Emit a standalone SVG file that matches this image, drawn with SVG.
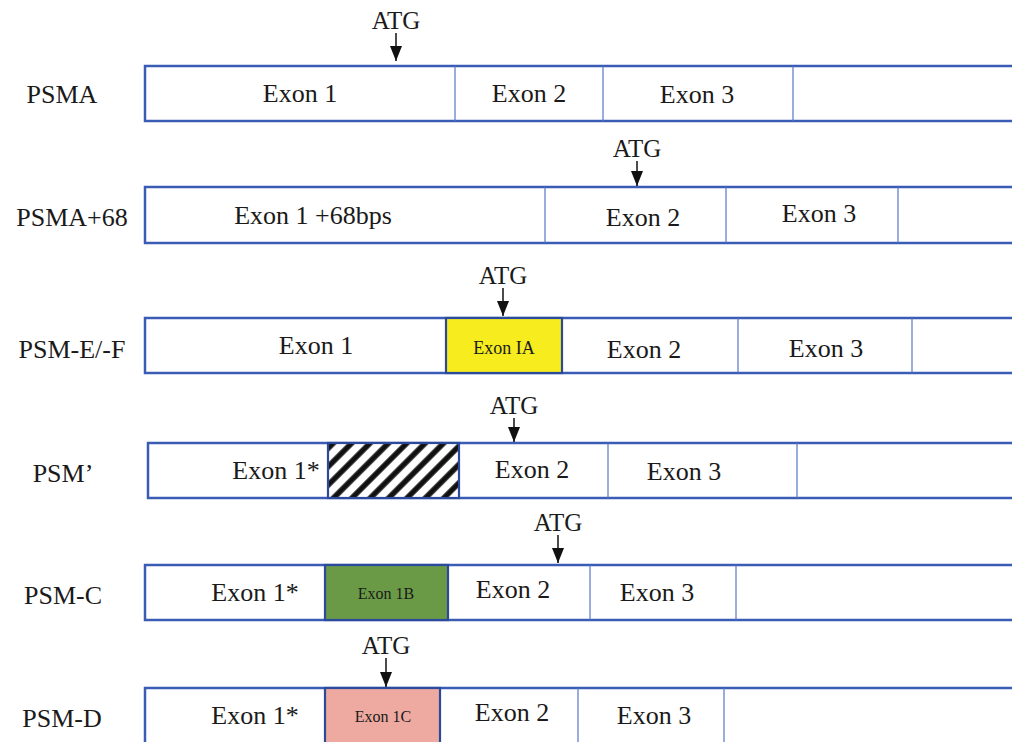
<svg xmlns="http://www.w3.org/2000/svg" width="1012" height="742" viewBox="0 0 1012 742">
  <style>
    .lbl { font-family: "Liberation Serif", "Times New Roman", serif; font-size: 26px; fill: #1a1a1a; text-anchor: middle; }
    .ex { font-family: "Liberation Serif", "Times New Roman", serif; font-size: 26px; fill: #1a1a1a; text-anchor: middle; }
    .exs { font-family: "Liberation Serif", "Times New Roman", serif; font-size: 16px; fill: #1a1a1a; text-anchor: middle; }
    .atg { font-family: "Liberation Serif", "Times New Roman", serif; font-size: 25px; fill: #1a1a1a; text-anchor: middle; }
    .bar { fill: #ffffff; stroke: #3b5cb4; stroke-width: 2.5; }
    .div { stroke: #5577c8; stroke-width: 1.2; }
    .box { stroke: #2c4a9c; stroke-width: 2.2; }
    .arr { stroke: #111; stroke-width: 1.5; marker-end: url(#head); }
  </style>
  <defs>
    <marker id="head" viewBox="0 0 15 12" refX="15" refY="6" markerWidth="15" markerHeight="12" markerUnits="userSpaceOnUse" orient="auto">
      <path d="M0,0 L15,6 L0,12 Z" fill="#111"/>
    </marker>
    <pattern id="hatch" patternUnits="userSpaceOnUse" width="13" height="13" patternTransform="rotate(45)">
      <rect width="13" height="13" fill="#ffffff"/>
      <line x1="3" y1="0" x2="3" y2="13" stroke="#111" stroke-width="5.5"/>
    </pattern>
  </defs>

  <rect width="1012" height="742" fill="#ffffff"/>

  <!-- PSMA -->
  <g id="psma">
    <text class="lbl" x="62" y="103">PSMA</text>
    <rect class="bar" x="145" y="66" width="880" height="55"/>
    <line class="div" x1="455" y1="66" x2="455" y2="121"/>
    <line class="div" x1="603" y1="66" x2="603" y2="121"/>
    <line class="div" x1="793" y1="66" x2="793" y2="121"/>
    <text class="ex" x="300" y="102">Exon 1</text>
    <text class="ex" x="529" y="102">Exon 2</text>
    <text class="ex" x="697" y="103">Exon 3</text>
    <text class="atg" x="396" y="29">ATG</text>
  </g>

  <!-- PSMA+68 -->
  <g id="psma68">
    <text class="lbl" x="72" y="226">PSMA+68</text>
    <rect class="bar" x="145" y="187" width="880" height="56"/>
    <line class="div" x1="545" y1="187" x2="545" y2="243"/>
    <line class="div" x1="726" y1="187" x2="726" y2="243"/>
    <line class="div" x1="898" y1="187" x2="898" y2="243"/>
    <text class="ex" x="313" y="224">Exon 1 +68bps</text>
    <text class="ex" x="643" y="226">Exon 2</text>
    <text class="ex" x="819" y="222">Exon 3</text>
    <text class="atg" x="637" y="157">ATG</text>
  </g>

  <!-- PSM-E/-F -->
  <g id="psm-ef">
    <text class="lbl" x="72" y="358">PSM-E/-F</text>
    <rect class="bar" x="145" y="318" width="880" height="55"/>
    <rect class="box" x="446" y="318" width="116" height="55" fill="#f6ec1e"/>
    <line class="div" x1="738" y1="318" x2="738" y2="373"/>
    <line class="div" x1="912" y1="318" x2="912" y2="373"/>
    <text class="ex" x="316" y="354">Exon 1</text>
    <text class="exs" x="504" y="354" style="font-size:18px">Exon IA</text>
    <text class="ex" x="644" y="358">Exon 2</text>
    <text class="ex" x="826" y="357">Exon 3</text>
    <text class="atg" x="503" y="284">ATG</text>
  </g>

  <!-- PSM' -->
  <g id="psm-prime">
    <text class="lbl" x="63" y="482">PSM’</text>
    <rect class="bar" x="148" y="443" width="880" height="55"/>
    <rect class="box" x="328" y="443" width="131" height="55" fill="url(#hatch)"/>
    <line class="div" x1="608" y1="443" x2="608" y2="498"/>
    <line class="div" x1="797" y1="443" x2="797" y2="498"/>
    <text class="ex" x="276" y="479">Exon 1*</text>
    <text class="ex" x="532" y="478">Exon 2</text>
    <text class="ex" x="684" y="480">Exon 3</text>
    <text class="atg" x="514" y="414">ATG</text>
  </g>

  <!-- PSM-C -->
  <g id="psm-c">
    <text class="lbl" x="63" y="604">PSM-C</text>
    <rect class="bar" x="145" y="565" width="880" height="55"/>
    <rect class="box" x="325" y="565" width="123" height="55" fill="#6b9a47"/>
    <line class="div" x1="590" y1="565" x2="590" y2="620"/>
    <line class="div" x1="736" y1="565" x2="736" y2="620"/>
    <text class="ex" x="255" y="601">Exon 1*</text>
    <text class="exs" x="386" y="599">Exon 1B</text>
    <text class="ex" x="513" y="598">Exon 2</text>
    <text class="ex" x="657" y="601">Exon 3</text>
    <text class="atg" x="558" y="531">ATG</text>
  </g>

  <!-- PSM-D -->
  <g id="psm-d">
    <text class="lbl" x="62" y="727">PSM-D</text>
    <rect class="bar" x="145" y="688" width="880" height="60"/>
    <rect class="box" x="325" y="688" width="115" height="60" fill="#eeaaa0"/>
    <line class="div" x1="578" y1="688" x2="578" y2="742"/>
    <line class="div" x1="724" y1="688" x2="724" y2="742"/>
    <text class="ex" x="255" y="724">Exon 1*</text>
    <text class="exs" x="383" y="722">Exon 1C</text>
    <text class="ex" x="512" y="721">Exon 2</text>
    <text class="ex" x="654" y="724">Exon 3</text>
    <text class="atg" x="386" y="654">ATG</text>
  </g>

  <!-- ATG pointers -->
  <g id="connectors">
    <line class="arr" x1="396" y1="33" x2="396" y2="61"/>
    <line class="arr" x1="637" y1="161" x2="637" y2="186"/>
    <line class="arr" x1="503" y1="288" x2="503" y2="316"/>
    <line class="arr" x1="514" y1="418" x2="514" y2="442"/>
    <line class="arr" x1="558" y1="535" x2="558" y2="563"/>
    <line class="arr" x1="386" y1="658" x2="386" y2="687"/>
  </g>
</svg>
